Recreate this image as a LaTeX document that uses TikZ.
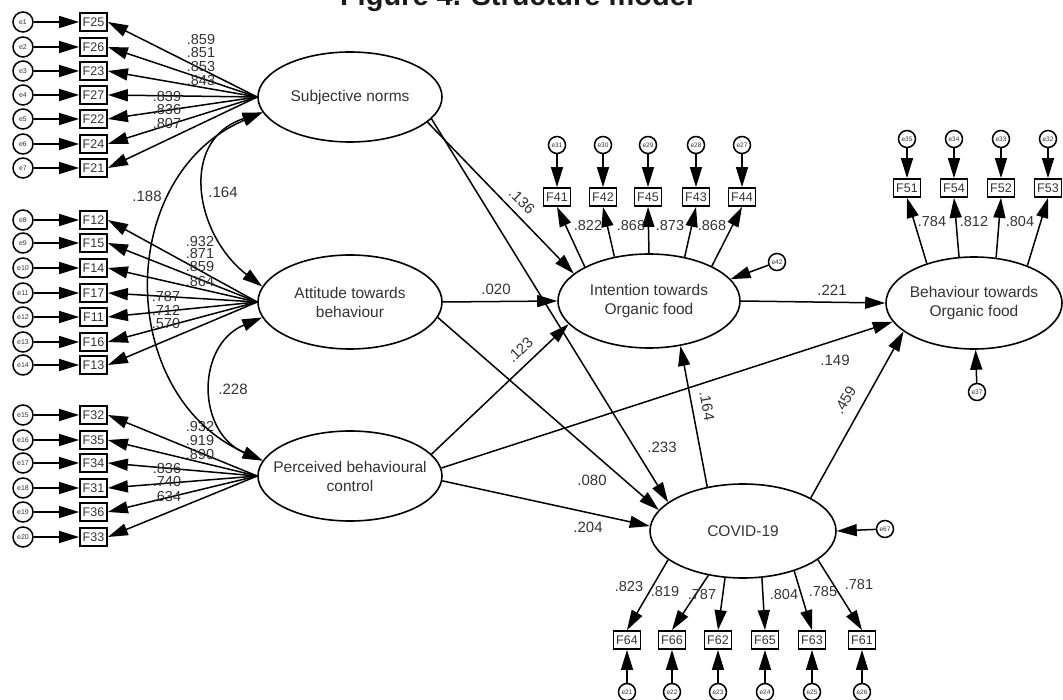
\documentclass[tikz,border=0pt]{standalone}
\usepackage{fontspec}
\setmainfont{Liberation Sans}
\usetikzlibrary{arrows.meta,shapes.geometric}
\definecolor{txt}{HTML}{333333}
\begin{document}
\begin{tikzpicture}[x=1pt,y=-1pt,
  lat/.style={ellipse, draw, line width=1.6pt, inner sep=0pt},
  lattext/.style={font=\fontsize{15.5}{19}\selectfont, text=txt, align=center},
  obs/.style={rectangle, draw, line width=1.8pt, minimum width=27pt, minimum height=18pt, inner sep=1pt, font=\fontsize{12.5}{12.5}\selectfont, text=txt},
  err/.style={circle, draw, line width=1.5pt, minimum size=20pt, inner sep=0pt, font=\fontsize{7}{7}\selectfont, text=txt},
  errs/.style={circle, draw, line width=1.5pt, minimum size=17pt, inner sep=0pt, font=\fontsize{6.5}{6.5}\selectfont, text=txt},
  arr/.style={-{Triangle[length=20pt,width=12pt]}, line width=1.5pt},
  darr/.style={{Triangle[length=20pt,width=12pt]}-{Triangle[length=20pt,width=12pt]}, line width=1.5pt},
  lab/.style={font=\fontsize{15}{15}\selectfont, text=txt, inner sep=0pt},
  ld/.style={font=\fontsize{14.5}{14.5}\selectfont, text=txt, inner sep=0pt}
]
\useasboundingbox (0,0) rectangle (1063,700);
\clip (0,0) rectangle (1063,700);

% title (partly cut off at the top)
\node[font=\bfseries\fontsize{29}{29}\selectfont, anchor=base, text=black!90, inner sep=0pt] (title) at (517,6) {Figure 4. Structure model};

% latent variables
\node[lat, minimum width=184pt, minimum height=90pt, label={[lattext]center:Subjective norms}] (sn) at (350,97) {};
\node[lat, minimum width=184pt, minimum height=94pt, label={[lattext]center:Attitude towards\\behaviour}] (att) at (350,302) {};
\node[lat, minimum width=184pt, minimum height=90pt, label={[lattext]center:Perceived behavioural\\control}] (pbc) at (350,476) {};
\node[lat, minimum width=182pt, minimum height=94pt, label={[lattext]center:Intention towards\\Organic food}] (int) at (649,301) {};
\node[lat, minimum width=176pt, minimum height=92pt, label={[lattext]center:Behaviour towards\\Organic food}] (beh) at (974,303) {};
\node[lat, minimum width=186pt, minimum height=94pt, label={[lattext]center:COVID-19}] (cov) at (743,531) {};

% Subjective norms indicators
\foreach \f/\y/\e in {F25/22/e1, F26/47/e2, F23/71/e3, F27/95/e4, F22/119/e5, F24/144/e6, F21/168/e7} {
  \node[obs] (\f) at (93.5,\y) {\f};
  \node[err] (\e) at (23,\y) {\e};
  \draw[arr] (\e) -- (\f);
  \draw[arr] (sn.west) -- (\f.east);
}
% Attitude indicators
\foreach \f/\y/\e in {F12/220/e8, F15/243/e9, F14/268/e10, F17/293/e11, F11/317/e12, F16/342/e13, F13/365/e14} {
  \node[obs] (\f) at (93.5,\y) {\f};
  \node[err] (\e) at (23,\y) {\e};
  \draw[arr] (\e) -- (\f);
  \draw[arr] (att.west) -- (\f.east);
}
% Perceived behavioural control indicators
\foreach \f/\y/\e in {F32/415/e15, F35/440/e16, F34/463/e17, F31/488/e18, F36/512/e19, F33/537/e20} {
  \node[obs] (\f) at (93.5,\y) {\f};
  \node[err] (\e) at (23,\y) {\e};
  \draw[arr] (\e) -- (\f);
  \draw[arr] (pbc.west) -- (\f.east);
}
% loadings left
\foreach \t/\x/\y in {.859/201/40, .851/201/53, .853/201/67, .843/201/81, .839/167/97, .836/167/110, .807/167/124,
  .932/200/242, .871/200/254, .859/200/267, .864/200/282, .787/166/297, .712/166/310, .570/166/324,
  .932/200/427, .919/200/441, .890/200/455, .836/167/469, .740/167/482, .634/167/497}
  \node[ld] at (\x,\y) {\t};

% Intention indicators
\foreach \f/\x/\e/\a in {F41/557/e31/152, F42/603/e30/128, F45/648/e29/90, F43/696/e28/51, F44/742/e27/29} {
  \node[obs] (\f) at (\x,197) {\f};
  \node[errs] (\e) at (\x,145) {\e};
  \draw[arr] (\e) -- (\f);
  \draw[arr] (int.\a) -- (\f.south);
}
\foreach \t/\x in {.822/588, .868/631, .873/670, .868/712}
  \node[ld] at (\x,226) {\t};

% Behaviour indicators
\foreach \f/\x/\e/\a in {F51/907/e35/140, F54/954/e34/108, F52/1001/e33/64, F53/1048/e32/35} {
  \node[obs] (\f) at (\x,188) {\f};
  \node[errs] (\e) at (\x,139) {\e};
  \draw[arr] (\e) -- (\f);
  \draw[arr] (beh.\a) -- (\f.south);
}
\foreach \t/\x in {.784/932, .812/974, .804/1020}
  \node[ld] at (\x,222) {\t};

% COVID-19 indicators
\foreach \f/\x/\e/\a in {F64/627/e21/201, F66/672/e22/232, F62/718/e23/249, F65/765/e24/292, F63/812/e25/322, F61/862/e26/339} {
  \node[obs] (\f) at (\x,640) {\f};
  \node[errs] (\e) at (\x,692) {\e};
  \draw[arr] (\e) -- (\f);
  \draw[arr] (cov.\a) -- (\f.north);
}
\foreach \t/\x/\y in {.823/629/587, .819/665/592, .787/702/595, .804/784/595, .785/823/592, .781/859/585}
  \node[ld] at (\x,\y) {\t};

% covariances
\draw[darr] (sn.190) .. controls (115,175) and (115,395) .. (pbc.170);
\draw[darr] (sn.190) .. controls (178,140) and (195,235) .. (att.170);
\draw[darr] (att.190) .. controls (196,345) and (196,432) .. (pbc.170);
\node[lab] at (147,196) {.188};
\node[lab] at (223,192) {.164};
\node[lab] at (233,389) {.228};

% structural paths
\draw[arr] (sn.-18) -- (int.160);
\draw[arr] (sn.-15) -- (cov.159);
\draw[arr] (att.east) -- (int.west);
\draw[arr] (att.-10) -- (cov.166);
\draw[arr] (pbc.15) -- (int.196);
\draw[arr] (pbc.5) -- (beh.193);
\draw[arr] (pbc.-3) -- (cov.177);
\draw[arr] (int.east) -- (beh.west);
\draw[arr] (cov.129) -- (int.-55);
\draw[arr] (cov.26) -- (beh.202);

\node[lab, rotate=-44] at (522,201) {.136};
\node[lab] at (496,289) {.020};
\node[lab, rotate=44] at (520,350) {.123};
\node[lab] at (662,447) {.233};
\node[lab] at (592,480) {.080};
\node[lab] at (588,527) {.204};
\node[lab] at (832,290) {.221};
\node[lab] at (835,360) {.149};
\node[lab, rotate=-80] at (707,406) {.164};
\node[lab, rotate=60] at (845,400) {.459};

% residuals of latent variables
\node[errs] (e42) at (777,262) {e42};
\node[errs] (e37) at (977,392) {e37};
\node[errs] (e67) at (885,529) {e67};
\draw[arr] (e42) -- (int.15);
\draw[arr] (e37) -- (beh.-88);
\draw[arr] (e67) -- (cov.east);
\end{tikzpicture}
\end{document}
